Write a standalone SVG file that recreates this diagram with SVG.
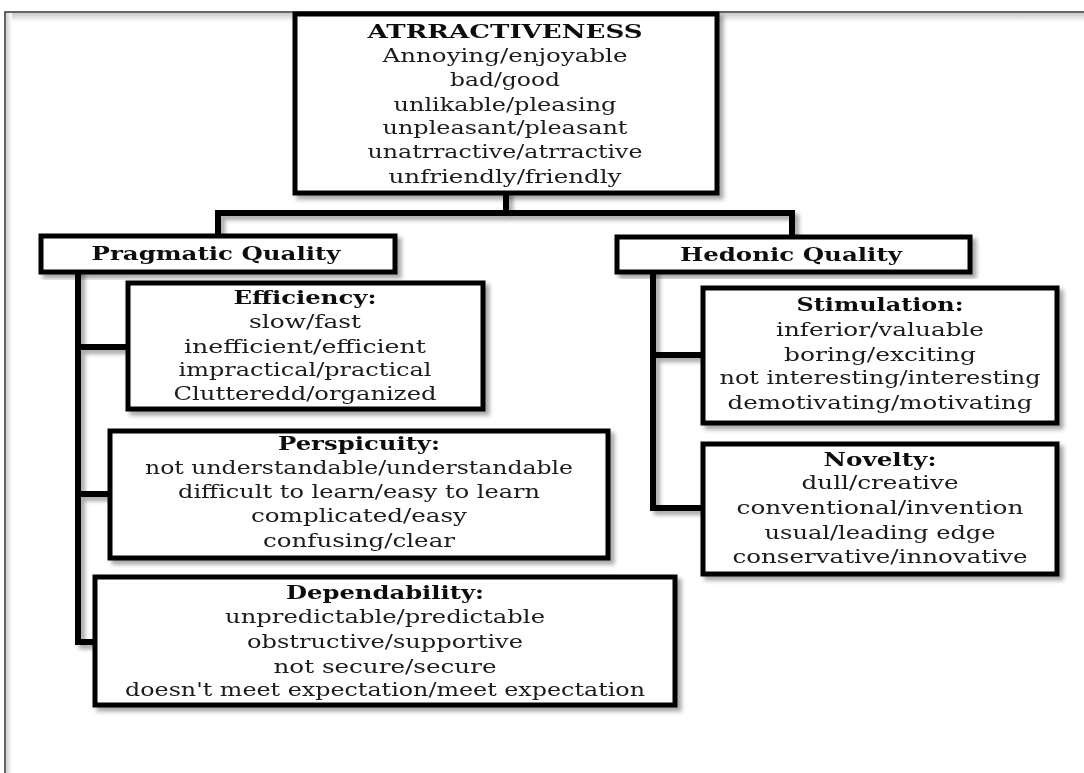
<svg xmlns="http://www.w3.org/2000/svg" width="1084" height="773" viewBox="0 0 1084 773">
<style>
.box{fill:#fff;stroke:#000;stroke-width:5}
.t{font-family:"DejaVu Serif","Liberation Serif",serif;font-size:18px;fill:#1a1a1a;text-anchor:middle}
.b{font-weight:bold;fill:#111}
.conn{fill:none;stroke:#000;stroke-width:6;stroke-linejoin:miter;stroke-linecap:square}
</style>
<defs>
<filter id="sh" x="-10%" y="-10%" width="130%" height="130%">
<feDropShadow dx="4" dy="4" stdDeviation="2" flood-color="#000" flood-opacity="0.35"/>
</filter>
<linearGradient id="gt" x1="0" y1="0" x2="0" y2="1">
<stop offset="0" stop-color="#c8c8c8"/><stop offset="1" stop-color="#fff"/>
</linearGradient>
<linearGradient id="gl" x1="0" y1="0" x2="1" y2="0">
<stop offset="0" stop-color="#d0d0d0"/><stop offset="1" stop-color="#fff"/>
</linearGradient>
</defs>
<rect x="0" y="0" width="1084" height="773" fill="#fff"/>
<g id="frame">
<rect x="6" y="13" width="1078" height="9" fill="url(#gt)"/>
<rect x="6" y="13" width="6" height="760" fill="url(#gl)"/>
<path d="M5,773 V12 H1084" fill="none" stroke="#333" stroke-width="1.5"/>
</g>
<g id="connectors" filter="url(#sh)">
<path class="conn" d="M506,193 V213"/>
<path class="conn" d="M218,236 V213 H792 V236"/>
<path class="conn" d="M78,272 V642 H95"/>
<path class="conn" d="M78,347 H128"/>
<path class="conn" d="M78,494 H110"/>
<path class="conn" d="M653,272 V508 H703"/>
<path class="conn" d="M653,355 H703"/>
</g>
<g id="attractiveness" filter="url(#sh)">
<rect class="box" x="295" y="14" width="422" height="179"/>
<text class="t b" x="505" y="38" textLength="275" lengthAdjust="spacingAndGlyphs">ATRRACTIVENESS</text>
<text class="t" x="505" y="62" textLength="245" lengthAdjust="spacingAndGlyphs">Annoying/enjoyable</text>
<text class="t" x="505" y="86" textLength="110" lengthAdjust="spacingAndGlyphs">bad/good</text>
<text class="t" x="505" y="111" textLength="223" lengthAdjust="spacingAndGlyphs">unlikable/pleasing</text>
<text class="t" x="505" y="134" textLength="245" lengthAdjust="spacingAndGlyphs">unpleasant/pleasant</text>
<text class="t" x="505" y="158" textLength="275" lengthAdjust="spacingAndGlyphs">unatrractive/atrractive</text>
<text class="t" x="505" y="183" textLength="233" lengthAdjust="spacingAndGlyphs">unfriendly/friendly</text>
</g>
<g id="pragmatic" filter="url(#sh)">
<rect class="box" x="41" y="236" width="354" height="36"/>
<text class="t b" x="216" y="260" textLength="249" lengthAdjust="spacingAndGlyphs">Pragmatic Quality</text>
</g>
<g id="hedonic" filter="url(#sh)">
<rect class="box" x="617" y="237" width="353" height="35"/>
<text class="t b" x="791" y="261" textLength="222" lengthAdjust="spacingAndGlyphs">Hedonic Quality</text>
</g>
<g id="efficiency" filter="url(#sh)">
<rect class="box" x="128" y="283" width="355" height="126"/>
<text class="t b" x="305" y="304" textLength="143" lengthAdjust="spacingAndGlyphs">Efficiency:</text>
<text class="t" x="305" y="328" textLength="112" lengthAdjust="spacingAndGlyphs">slow/fast</text>
<text class="t" x="305" y="353" textLength="242" lengthAdjust="spacingAndGlyphs">inefficient/efficient</text>
<text class="t" x="305" y="376" textLength="253" lengthAdjust="spacingAndGlyphs">impractical/practical</text>
<text class="t" x="305" y="400" textLength="263" lengthAdjust="spacingAndGlyphs">Clutteredd/organized</text>
</g>
<g id="perspicuity" filter="url(#sh)">
<rect class="box" x="110" y="431" width="498" height="127"/>
<text class="t b" x="359" y="450" textLength="162" lengthAdjust="spacingAndGlyphs">Perspicuity:</text>
<text class="t" x="359" y="474" textLength="428" lengthAdjust="spacingAndGlyphs">not understandable/understandable</text>
<text class="t" x="359" y="498" textLength="362" lengthAdjust="spacingAndGlyphs">difficult to learn/easy to learn</text>
<text class="t" x="359" y="522" textLength="216" lengthAdjust="spacingAndGlyphs">complicated/easy</text>
<text class="t" x="359" y="547" textLength="192" lengthAdjust="spacingAndGlyphs">confusing/clear</text>
</g>
<g id="dependability" filter="url(#sh)">
<rect class="box" x="95" y="577" width="580" height="128"/>
<text class="t b" x="385" y="599" textLength="198" lengthAdjust="spacingAndGlyphs">Dependability:</text>
<text class="t" x="385" y="623" textLength="320" lengthAdjust="spacingAndGlyphs">unpredictable/predictable</text>
<text class="t" x="385" y="648" textLength="276" lengthAdjust="spacingAndGlyphs">obstructive/supportive</text>
<text class="t" x="385" y="673" textLength="223" lengthAdjust="spacingAndGlyphs">not secure/secure</text>
<text class="t" x="385" y="696" textLength="520" lengthAdjust="spacingAndGlyphs">doesn't meet expectation/meet expectation</text>
</g>
<g id="stimulation" filter="url(#sh)">
<rect class="box" x="703" y="288" width="354" height="135"/>
<text class="t b" x="880" y="311" textLength="167" lengthAdjust="spacingAndGlyphs">Stimulation:</text>
<text class="t" x="880" y="336" textLength="208" lengthAdjust="spacingAndGlyphs">inferior/valuable</text>
<text class="t" x="880" y="361" textLength="192" lengthAdjust="spacingAndGlyphs">boring/exciting</text>
<text class="t" x="880" y="384" textLength="321" lengthAdjust="spacingAndGlyphs">not interesting/interesting</text>
<text class="t" x="880" y="409" textLength="305" lengthAdjust="spacingAndGlyphs">demotivating/motivating</text>
</g>
<g id="novelty" filter="url(#sh)">
<rect class="box" x="703" y="444" width="354" height="130"/>
<text class="t b" x="880" y="466" textLength="113" lengthAdjust="spacingAndGlyphs">Novelty:</text>
<text class="t" x="880" y="489" textLength="157" lengthAdjust="spacingAndGlyphs">dull/creative</text>
<text class="t" x="880" y="514" textLength="287" lengthAdjust="spacingAndGlyphs">conventional/invention</text>
<text class="t" x="880" y="539" textLength="231" lengthAdjust="spacingAndGlyphs">usual/leading edge</text>
<text class="t" x="880" y="563" textLength="295" lengthAdjust="spacingAndGlyphs">conservative/innovative</text>
</g>
</svg>
